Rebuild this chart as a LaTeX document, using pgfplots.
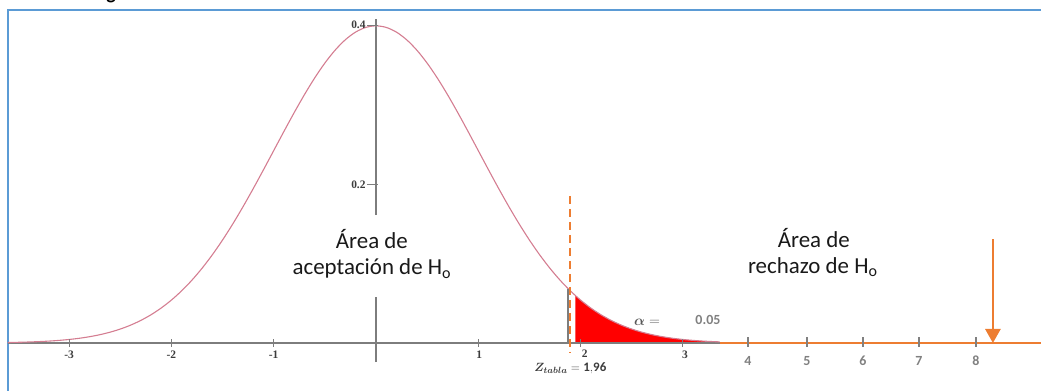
\documentclass[border=0pt]{standalone}
\usepackage{pgfplots}
\pgfplotsset{compat=1.18}
\usepackage{pgfplotstable}
\usepackage{bm}
\usepackage{fontspec}
\setmainfont{Carlito}
\newfontfamily\serifb{Liberation Serif}
\usetikzlibrary{arrows.meta}
\definecolor{frameblue}{RGB}{91,155,213}
\definecolor{curvecol}{RGB}{212,125,145}
\definecolor{axgray}{RGB}{125,125,125}
\definecolor{orng}{RGB}{237,125,49}
\definecolor{ticklab}{RGB}{60,60,60}
\definecolor{sansgray}{RGB}{128,128,128}

\pgfplotstableread{
x y
-3.6 0.00061
-3.5 0.00087
-3.4 0.00123
-3.3 0.00172
-3.2 0.00238
-3.1 0.00327
-3.0 0.00443
-2.9 0.00595
-2.8 0.00792
-2.7 0.01042
-2.6 0.01358
-2.5 0.01753
-2.4 0.02239
-2.3 0.02833
-2.2 0.03547
-2.1 0.04398
-2.0 0.05399
-1.9 0.06562
-1.8 0.07895
-1.7 0.09405
-1.6 0.11092
-1.5 0.12952
-1.4 0.14973
-1.3 0.17137
-1.2 0.19419
-1.1 0.21785
-1.0 0.24197
-0.9 0.26609
-0.8 0.28969
-0.7 0.31225
-0.6 0.33322
-0.5 0.35207
-0.4 0.36827
-0.3 0.38139
-0.2 0.39104
-0.1 0.39695
0.0 0.39894
0.1 0.39695
0.2 0.39104
0.3 0.38139
0.4 0.36827
0.5 0.35207
0.6 0.33322
0.7 0.31225
0.8 0.28969
0.9 0.26609
1.0 0.24197
1.1 0.21785
1.2 0.19419
1.3 0.17137
1.4 0.14973
1.5 0.12952
1.6 0.11092
1.7 0.09405
1.8 0.07895
1.9 0.06562
2.0 0.05399
2.1 0.04398
2.2 0.03547
2.3 0.02833
2.4 0.02239
2.5 0.01753
2.6 0.01358
2.7 0.01042
2.8 0.00792
2.9 0.00595
3.0 0.00443
3.1 0.00327
3.2 0.00238
3.3 0.00172
3.36 0.00141
}\curve

\pgfplotstableread{
x y
1.95 0
1.95 0.05960
2.0 0.05399
2.1 0.04398
2.2 0.03547
2.3 0.02833
2.4 0.02239
2.5 0.01753
2.6 0.01358
2.7 0.01042
2.8 0.00792
2.9 0.00595
3.0 0.00443
3.1 0.00327
3.2 0.00238
3.3 0.00172
3.36 0.00141
3.36 0
}\tail

\begin{document}
\begin{tikzpicture}
\useasboundingbox (0,0) rectangle (1041bp,391bp);
% frame
\draw[frameblue, line width=2.2bp] (8bp,-2bp) -- (8bp,381bp) -- (1045bp,381bp);
\node[anchor=base, font=\bfseries\fontsize{20}{24}\selectfont] at (111bp,391.3bp) {g};
\begin{axis}[at={(0,0)}, anchor=south west, scale only axis,
  width=1041bp, height=391bp,
  xmin=-3.6755, xmax=6.5005, ymin=-0.06038, ymax=0.43145,
  hide axis, clip=false]
% red tail area
\addplot[fill=red, draw=none] table {\tail} -- cycle;
% gray axis
\addplot[axgray, line width=1.6bp] coordinates {(-3.6,0) (3.36,0)};
% orange continuation
\addplot[orng, line width=1.6bp] coordinates {(3.36,0) (6.51,0)};
% y axis (interrupted behind the label)
\addplot[axgray, line width=1.8bp] coordinates {(0,0.161) (0,0.4076)};
\addplot[axgray, line width=1.8bp] coordinates {(0,-0.024) (0,0.0579)};
% curve
\addplot[curvecol, line width=1.1bp, smooth] table {\curve};
% gray vertical at boundary
\addplot[axgray, line width=1.4bp] coordinates {(1.877,0) (1.877,0.0685)};
% dashed critical line
\addplot[orng, line width=2.6bp, dash pattern=on 8bp off 5bp] coordinates {(1.896,0.185) (1.896,-0.0113)};
% arrow
\addplot[orng, line width=2.6bp, -{Triangle[width=15bp,length=14bp]}] coordinates {(6.031,0.1308) (6.031,0)};
% ticks left part
\foreach \t in {-3,-2,-1,1,2,3}{
  \edef\tmp{\noexpand\draw[axgray, line width=0.8bp] (axis cs:\t,-0.005) -- (axis cs:\t,0.005);}\tmp
}
\draw[axgray, line width=0.9bp] (axis cs:-0.085,0.4) -- (axis cs:0.02,0.4);
\draw[axgray, line width=0.9bp] (axis cs:-0.085,0.2) -- (axis cs:0.02,0.2);
% ticks right part
\foreach \p in {3.636,4.213,4.761,5.308,5.865}{
  \edef\tmp{\noexpand\draw[sansgray, line width=1.2bp] (axis cs:\p,-0.005) -- (axis cs:\p,0.0075);}\tmp
}
% tick labels (serif)
\begin{scope}[every node/.style={font=\serifb\bfseries\fontsize{11.5}{13}\selectfont, text=ticklab}]
\node at (axis cs:-3,-0.0145) {-3};
\node at (axis cs:-2,-0.0145) {-2};
\node at (axis cs:-1,-0.0145) {-1};
\node at (axis cs:1.01,-0.0145) {1};
\node at (axis cs:2.04,-0.0135) {2};
\node at (axis cs:3.02,-0.0145) {3};
\node[anchor=east, inner sep=1bp] at (axis cs:-0.09,0.4) {0.4};
\node[anchor=east, inner sep=1bp] at (axis cs:-0.09,0.199) {0.2};
\end{scope}
% tick labels (sans)
\begin{scope}[every node/.style={font=\bfseries\fontsize{14}{16}\selectfont, text=sansgray}]
\node at (axis cs:3.636,-0.0226) {4};
\node at (axis cs:4.213,-0.0226) {5};
\node at (axis cs:4.761,-0.0226) {6};
\node at (axis cs:5.308,-0.0226) {7};
\node at (axis cs:5.865,-0.0226) {8};
\node at (axis cs:3.245,0.0285) {0.05};
\end{scope}
\node[text=ticklab!85, font=\fontsize{14}{16}\selectfont] at (axis cs:2.65,0.0265) {$\bm{\alpha} =$};
\node[text=ticklab, font=\fontsize{13}{15}\selectfont] at (axis cs:1.9,-0.0315) {$\bm{Z_{tabla}}=\mathbf{1{,}96}$};
% area texts
\begin{scope}[every node/.style={font=\fontsize{23}{26}\selectfont, text=black!90}]
\node at (axis cs:-0.04,0.094) {aceptación de H\textsubscript{o}};
\node at (axis cs:-0.04,0.131) {Área de};
\node at (axis cs:4.27,0.0955) {rechazo de H\textsubscript{o}};
\node at (axis cs:4.28,0.132) {Área de};
\end{scope}
\end{axis}
\end{tikzpicture}
\end{document}
